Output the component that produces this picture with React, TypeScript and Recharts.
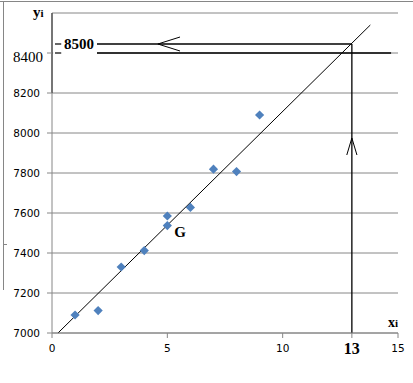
import React from "react";
import {
  ScatterChart,
  Scatter,
  XAxis,
  YAxis,
  CartesianGrid,
  ReferenceLine,
  ReferenceDot,
} from "recharts";

// observations (x_i, y_i)
const xValues = [1, 2, 3, 4, 5, 5, 6, 7, 8, 9];
const yValues = [7090, 7112, 7330, 7412, 7585, 7537, 7628, 7819, 7807, 8090];

const xTicks = [0, 5, 10, 13, 15];
const yTicks = [7000, 7200, 7400, 7600, 7800, 8000, 8200, 8400];

// fitted line end points
const trendX = [0.26, 13.8];
const trendY = [7000, 8540];

// forecast: x = 13 gives y = 8500
const forecastX = 13;
const forecastY = 8445;
const forecastLabel = "8500";
const markY = 8400;

const points = xValues.map((x, i) => ({ x, y: yValues[i] }));

const BLUE = "#4F81BD";
const GRAY = "#868686";
const SERIF = "'Liberation Serif', 'Times New Roman', serif";
const SANS = "'DejaVu Sans', Verdana, sans-serif";

const Diamond = (props: any) => {
  const { cx, cy } = props;
  const r = 4.6;
  return (
    <path
      d={`M${cx},${cy - r}L${cx + r},${cy}L${cx},${cy + r}L${cx - r},${cy}Z`}
      fill={BLUE}
    />
  );
};

const YTick = (props: any) => {
  const { x, y, payload } = props;
  const big = payload.value === 8400;
  return (
    <text
      x={big ? x - 2 : x - 5}
      y={big ? y + 4 : y}
      textAnchor="end"
      dominantBaseline="central"
      fontFamily={big ? SERIF : SANS}
      fontSize={big ? 15 : 10.5}
      fill="#000"
    >
      {payload.value}
    </text>
  );
};

const XTick = (props: any) => {
  const { x, y, payload } = props;
  const big = payload.value === forecastX;
  return (
    <text
      x={x}
      y={y + 8}
      textAnchor="middle"
      dominantBaseline="central"
      fontFamily={big ? SERIF : SANS}
      fontWeight={big ? "bold" : "normal"}
      fontSize={big ? 16 : 10.5}
      fill="#000"
    >
      {payload.value}
    </text>
  );
};

const seg = (x1: number, y1: number, x2: number, y2: number) => [
  { x: x1, y: y1 },
  { x: x2, y: y2 },
];

export default function App() {
  return (
    <div style={{ position: "relative", width: 413, height: 383, background: "#fff" }}>
      <style>{`body{margin:0}`}</style>
      <div style={{ position: "absolute", left: 0, top: 1, width: 413, height: 1, background: GRAY }} />
      <div style={{ position: "absolute", left: 3, top: 1, width: 1, height: 289, background: GRAY }} />
      <div style={{ position: "absolute", left: 3, top: 244, width: 4, height: 1, background: GRAY }} />
      <ScatterChart
        width={413}
        height={383}
        margin={{ top: 13, right: 15, bottom: 20, left: 0 }}
      >
        <CartesianGrid horizontal vertical={false} stroke={GRAY} />
        <XAxis
          type="number"
          dataKey="x"
          domain={[0, 15]}
          ticks={xTicks}
          interval={0}
          height={30}
          stroke={GRAY}
          tickSize={5}
          tick={<XTick />}
        />
        <YAxis
          type="number"
          dataKey="y"
          domain={[7000, 8600]}
          ticks={yTicks}
          interval={0}
          width={52}
          stroke={GRAY}
          tickSize={5}
          tick={<YTick />}
        />
        <ReferenceLine segment={seg(0.05, markY, 1.95, markY)} stroke="#fff" strokeWidth={2} />
        <ReferenceLine segment={seg(0, 8200, 0, 8600)} stroke="#000" strokeWidth={1.2} />
        <ReferenceLine
          segment={seg(trendX[0], trendY[0], trendX[1], trendY[1])}
          stroke="#000"
          strokeWidth={1}
          ifOverflow="visible"
        />
        <ReferenceLine
          segment={seg(1.95, forecastY, forecastX, forecastY)}
          stroke="#000"
          strokeWidth={1.3}
          label={(p: any) => (
            <text
              x={p.viewBox.x - 3}
              y={p.viewBox.y}
              textAnchor="end"
              dominantBaseline="central"
              fontFamily={SERIF}
              fontWeight="bold"
              fontSize={15}
              fill="#000"
            >
              {forecastLabel}
            </text>
          )}
        />
        <ReferenceLine segment={seg(1.95, markY, 14.7, markY)} stroke="#000" strokeWidth={1.3} ifOverflow="visible" />
        <ReferenceLine segment={seg(0.13, forecastY, 0.4, forecastY)} stroke="#000" strokeWidth={1.2} />
        <ReferenceLine segment={seg(0.13, markY, 0.4, markY)} stroke="#000" strokeWidth={1.2} />
        <ReferenceLine segment={seg(forecastX, 7000, forecastX, forecastY)} stroke="#000" strokeWidth={1.3} />
        {/* arrow heads */}
        <ReferenceLine segment={seg(4.59, forecastY, 5.55, forecastY + 35)} stroke="#000" strokeWidth={1} />
        <ReferenceLine segment={seg(4.59, forecastY, 5.55, forecastY - 35)} stroke="#000" strokeWidth={1} />
        <ReferenceLine segment={seg(forecastX, 7975, forecastX - 0.22, 7890)} stroke="#000" strokeWidth={1} />
        <ReferenceLine segment={seg(forecastX, 7975, forecastX + 0.22, 7890)} stroke="#000" strokeWidth={1} />
        <Scatter data={points} shape={<Diamond />} isAnimationActive={false} />
        <ReferenceDot
          x={5.55}
          y={7505}
          r={0}
          stroke="none"
          label={(p: any) => (
            <text
              x={p.viewBox.x}
              y={p.viewBox.y}
              textAnchor="middle"
              dominantBaseline="central"
              fontFamily={SERIF}
              fontWeight="bold"
              fontSize={15}
              fill="#000"
            >
              G
            </text>
          )}
        />
      </ScatterChart>
      <div
        style={{
          position: "absolute",
          left: 33,
          top: 4,
          fontFamily: SERIF,
          fontWeight: "bold",
          fontSize: 15,
          lineHeight: "16px",
        }}
      >
        y<span style={{ fontSize: 11 }}>i</span>
      </div>
      <div
        style={{
          position: "absolute",
          left: 388,
          top: 315,
          fontFamily: SERIF,
          fontWeight: "bold",
          fontSize: 14,
          lineHeight: "16px",
        }}
      >
        x<span style={{ fontSize: 11 }}>i</span>
      </div>
    </div>
  );
}
